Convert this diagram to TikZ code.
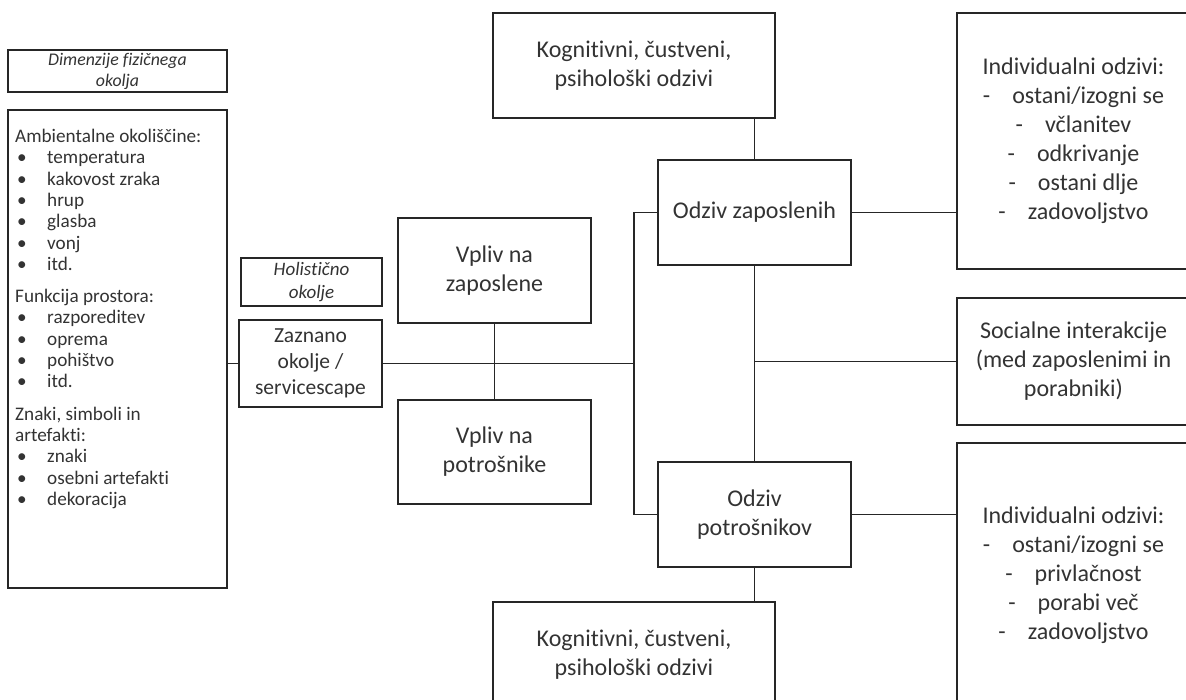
\documentclass[tikz,border=0pt]{standalone}
\usepackage{fontspec}
\setmainfont{Carlito}[Ligatures={NoCommon}]
\begin{document}
\begin{tikzpicture}[x=1pt,y=-1pt,
  box/.style={draw=black!85, line width=1.3pt, rectangle, inner sep=0pt, align=center, text=black!80},
  conn/.style={draw=black!85, line width=1.3pt},
  big/.style={font=\fontsize{24}{29}\selectfont},
  med/.style={font=\fontsize{21.5}{26}\selectfont},
  ita/.style={font=\fontsize{19}{23}\selectfont\itshape},
  sml/.style={font=\fontsize{17.8}{21}\selectfont\itshape}]
\useasboundingbox (0,0) rectangle (1186,699);
\clip (0,0) rectangle (1186,699);
\newcommand{\bl}[1]{\makebox[32pt][l]{\hspace{2pt}•}#1}
\newcommand{\dl}[1]{-\hspace{22pt}#1}
% left column
\node[box, sml, minimum width=219, minimum height=42] (dim) at (117.5,71) {Dimenzije fizičnega\\okolja};
\node[box, minimum width=219, minimum height=478] (env) at (117.5,349) {};
\node[anchor=north west, inner sep=0pt, align=left, text=black!80,
  font=\fontsize{19.2}{21.3}\selectfont] (envtext) at (15,129)
  {Ambientalne okoliščine:\\
   \bl{temperatura}\\ \bl{kakovost zraka}\\ \bl{hrup}\\ \bl{glasba}\\ \bl{vonj}\\ \bl{itd.}\\[11pt]
   Funkcija prostora:\\
   \bl{razporeditev}\\ \bl{oprema}\\ \bl{pohištvo}\\ \bl{itd.}\\[11pt]
   Znaki, simboli in\\ artefakti:\\
   \bl{znaki}\\ \bl{osebni artefakti}\\ \bl{dekoracija}};
% second column
\node[box, ita, minimum width=141, minimum height=48] (hol) at (311.5,282) {Holistično\\okolje};
\node[box, med, minimum width=143, minimum height=87] (zaz) at (310.5,363.5) {Zaznano\\okolje /\\servicescape};
% third column
\node[box, big, minimum width=193, minimum height=105] (vz) at (494.5,270.5) {Vpliv na\\zaposlene};
\node[box, big, minimum width=193, minimum height=104] (vp) at (494.5,452) {Vpliv na\\potrošnike};
% fourth column
\node[box, big, minimum width=282, minimum height=105] (k1) at (634,65.5) {Kognitivni, čustveni,\\psihološki odzivi};
\node[box, big, minimum width=193, minimum height=105] (oz) at (754.5,212.5) {Odziv zaposlenih};
\node[box, big, minimum width=193, minimum height=105] (op) at (754.5,514.5) {Odziv\\potrošnikov};
\node[box, big, minimum width=282, minimum height=105] (k2) at (634,654.5) {Kognitivni, čustveni,\\psihološki odzivi};
% right column
\node[box, big, minimum width=233, minimum height=256] (r1) at (1073.5,141)
  {Individualni odzivi:\\ \dl{ostani/izogni se}\\ \dl{včlanitev}\\ \dl{odkrivanje}\\ \dl{ostani dlje}\\ \dl{zadovoljstvo}};
\node[box, big, minimum width=233, minimum height=127] (soc) at (1073.5,361.5)
  {Socialne interakcije\\(med zaposlenimi in\\porabniki)};
\node[box, big, minimum width=233, minimum height=264] (r2) at (1073.5,575)
  {Individualni odzivi:\\ \dl{ostani/izogni se}\\ \dl{privlačnost}\\ \dl{porabi več}\\ \dl{zadovoljstvo}};
% connectors
\coordinate (bus) at (634,363.5);
\draw[conn] (zaz.west -| env.east) -- (zaz.west);
\draw[conn] (zaz.east) -- (bus);
\draw[conn] (vz.south) -- (vp.north);
\draw[conn] (oz.west) -- (oz.west -| bus) -- (op.west -| bus) -- (op.west);
\draw[conn] (k1.south -| oz.north) -- (oz.north);
\draw[conn] (oz.south) -- (op.north);
\draw[conn] (op.south) -- (op.south |- k2.north);
\draw[conn] (oz.east) -- (oz.east -| r1.west);
\draw[conn] (soc.west -| oz.south) -- (soc.west);
\draw[conn] (op.east) -- (op.east -| r2.west);
\end{tikzpicture}
\end{document}
